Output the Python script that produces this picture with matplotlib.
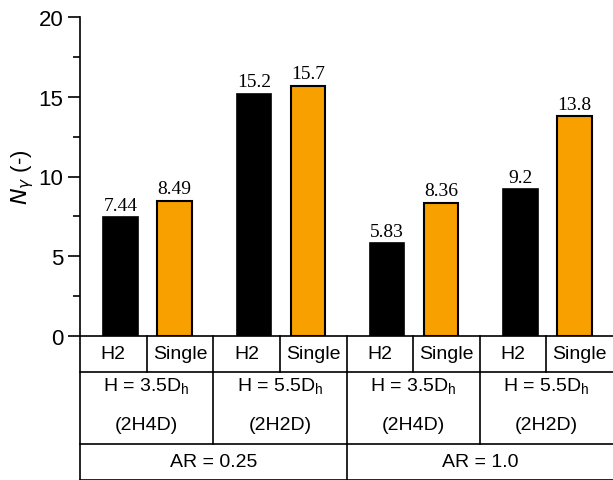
import matplotlib.pyplot as plt
import numpy as np

plt.rcParams['font.family'] = ['Liberation Sans', 'DejaVu Sans']

h2_vals = [7.44, 15.2, 5.83, 9.2]
single_vals = [8.49, 15.7, 8.36, 13.8]
h2_labels = ['7.44', '15.2', '5.83', '9.2']
single_labels = ['8.49', '15.7', '8.36', '13.8']
height_labels = ['H = 3.5D$_\\mathregular{h}$', 'H = 5.5D$_\\mathregular{h}$',
                 'H = 3.5D$_\\mathregular{h}$', 'H = 5.5D$_\\mathregular{h}$']
case_labels = ['(2H4D)', '(2H2D)', '(2H4D)', '(2H2D)']
ar_labels = ['AR = 0.25', 'AR = 1.0']

fig = plt.figure(figsize=(6.13, 4.81), dpi=100)
ax = fig.add_axes([80/613, 144/481, 533/613, 319/481])

groups = np.arange(4) * 2
ax.bar(groups + 0.61, h2_vals, width=0.52, color='black', edgecolor='black', lw=1.2)
ax.bar(groups + 1.42, single_vals, width=0.52, color='#F7A000', edgecolor='black', lw=1.5)

for g, v, s in zip(groups, h2_vals, h2_labels):
    ax.text(g + 0.61, v + 0.2, s, ha='center', va='bottom', fontsize=14, family='Liberation Serif')
for g, v, s in zip(groups, single_vals, single_labels):
    ax.text(g + 1.42, v + 0.2, s, ha='center', va='bottom', fontsize=14, family='Liberation Serif')

ax.set_xlim(0, 8)
ax.set_ylim(0, 20)
ax.set_yticks([0, 5, 10, 15, 20])
ax.set_yticks([2.5, 7.5, 12.5, 17.5], minor=True)
ax.tick_params(axis='y', which='major', length=9, width=1.2, labelsize=16, direction='out', pad=3)
ax.tick_params(axis='y', which='minor', length=5, width=1.2, direction='out')
ax.set_xticks([])
ax.spines['top'].set_visible(False)
ax.spines['right'].set_visible(False)
ax.spines['left'].set_linewidth(1.2)
ax.spines['bottom'].set_linewidth(1.2)
ax.set_ylabel('$\\it{N}_{\\gamma}$ (-)', fontsize=16, labelpad=2)

# table under the axis
px = 1 / 319
r1, r2, r3 = -36 * px, -108 * px, -144 * px
tr = ax.get_xaxis_transform()
kw = dict(color='black', lw=1.2, transform=tr, clip_on=False)
ax.plot([0.004, 0.004], [0, r3 - 0.01], **kw)
for y in [r1, r2, r3]:
    ax.plot([0, 8], [y, y], **kw)
for x in range(1, 8):
    ax.plot([x, x], [0, r1], **kw)
for x in [2, 4, 6]:
    ax.plot([x, x], [r1, r2], **kw)
ax.plot([4, 4], [r2, r3], **kw)

for i in range(4):
    ax.text(2 * i + 0.5, r1 / 2, 'H2', ha='center', va='center', fontsize=14, transform=tr)
    ax.text(2 * i + 1.5, r1 / 2, 'Single', ha='center', va='center', fontsize=14, transform=tr)
    ax.text(2 * i + 1, (r1 + r2) / 2 + 22 * px, height_labels[i], ha='center', va='center',
            fontsize=14, transform=tr)
    ax.text(2 * i + 1, (r1 + r2) / 2 - 17 * px, case_labels[i], ha='center', va='center',
            fontsize=14, transform=tr)
for i in range(2):
    ax.text(4 * i + 2, (r2 + r3) / 2, ar_labels[i], ha='center', va='center', fontsize=14, transform=tr)

fig.savefig('out.png', dpi=100)
